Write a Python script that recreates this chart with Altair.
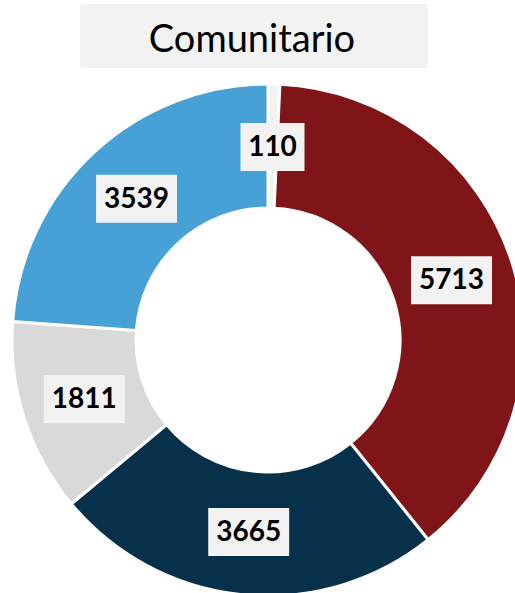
import altair as alt
import pandas as pd

title_text = "Comunitario"
values = [110, 5713, 3665, 1811, 3539]
colors = ["#F2F2F2", "#7F1518", "#07304A", "#D9D9D9", "#47A0D6"]
order = [0, 1, 2, 3, 4]

df = pd.DataFrame({"value": values, "color": colors, "order": order})

CX, CY = 268, 340
R_OUT, R_IN, R_LAB = 256, 132, 193

base = alt.Chart(df)

arcs = base.mark_arc(stroke="white", strokeWidth=3).encode(
    theta=alt.Theta("value:Q", stack=True),
    order=alt.Order("order:Q"),
    color=alt.Color("color:N", scale=None),
    x=alt.value(CX),
    y=alt.value(CY),
    radius=alt.value(R_OUT),
    radius2=alt.value(R_IN),
)

lab = base.transform_window(
    cum="sum(value)", sort=[alt.SortField("order")]
).transform_joinaggregate(
    total="sum(value)"
).transform_calculate(
    mid="(datum.cum - datum.value/2) / datum.total * 2 * PI",
    txt="format(datum.value, 'd')",
).transform_calculate(
    lx=f"{CX} + {R_LAB} * sin(datum.mid)",
    ly=f"{CY} - {R_LAB} * cos(datum.mid)",
    hw="(13 + 17 * length(datum.txt)) / 2",
).transform_calculate(
    x1="datum.lx - datum.hw",
    x2="datum.lx + datum.hw",
    y1="datum.ly - 24",
    y2="datum.ly + 24",
)

boxes = lab.mark_rect(color="#F2F2F2").encode(
    x=alt.X("x1:Q", scale=None),
    x2="x2:Q",
    y=alt.Y("y1:Q", scale=None),
    y2="y2:Q",
)

texts = lab.mark_text(
    font="Lato", fontWeight="bold", fontSize=28, color="#000000",
    align="center", baseline="middle", dy=1,
).encode(
    x=alt.X("lx:Q", scale=None),
    y=alt.Y("ly:Q", scale=None),
    text="txt:N",
)

tdf = pd.DataFrame({"t": [title_text]})
title_box = alt.Chart(tdf).mark_rect(color="#F2F2F2", cornerRadius=3).encode(
    x=alt.value(80), x2=alt.value(428), y=alt.value(4), y2=alt.value(68)
)
title = alt.Chart(tdf).mark_text(
    font="Lato", fontSize=38, color="#000000", align="center", baseline="alphabetic"
).encode(x=alt.value(252), y=alt.value(52), text="t:N")

chart = alt.layer(arcs, boxes, texts, title_box, title).properties(
    width=515, height=593,
    autosize=alt.AutoSizeParams(type="none"),
    padding=0,
).configure_view(strokeWidth=0)

chart.save("out.html", embed_options={"renderer": "svg", "actions": False})
